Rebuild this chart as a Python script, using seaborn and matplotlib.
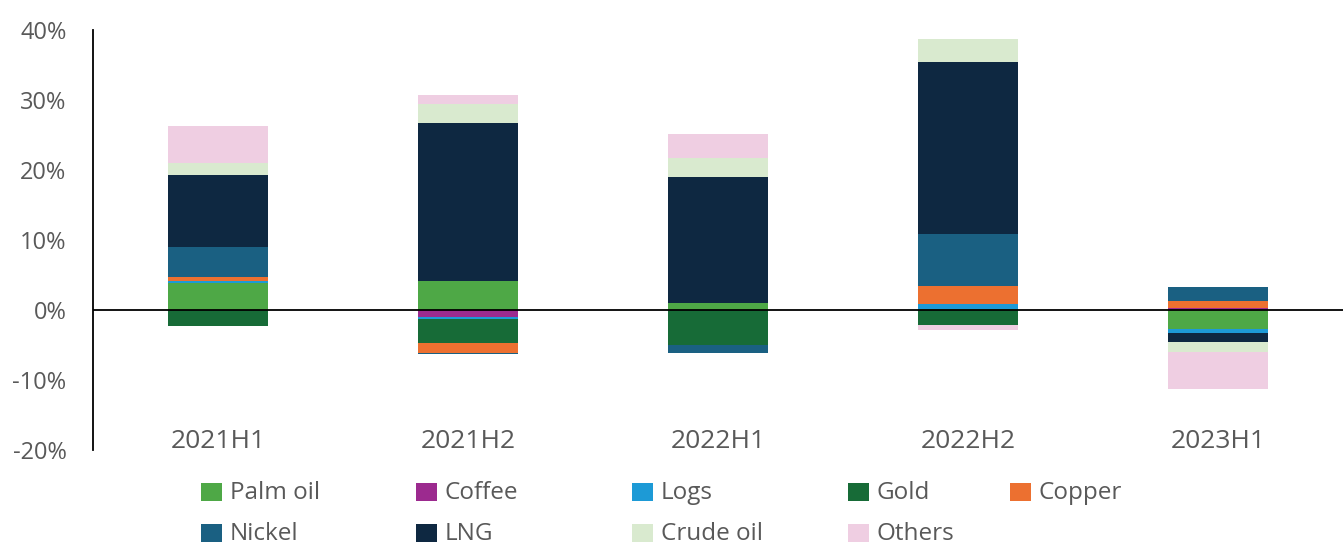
import matplotlib
matplotlib.use("Agg")
import matplotlib.pyplot as plt
from matplotlib.patches import Rectangle
import numpy as np
import pandas as pd
import seaborn as sns

# Half-year periods
periods = ["2021H1", "2021H2", "2022H1", "2022H2", "2023H1"]

# Contribution of each commodity to export growth (percentage points)
palm_oil = [3.8, 4.1, 0.95, 0.2, -2.75]
coffee = [0.0, -1.0, 0.0, 0.0, 0.3]
logs = [0.3, -0.35, 0.0, 0.7, -0.5]
gold = [-2.3, -3.3, -5.0, -2.2, 0.0]
copper = [0.65, -1.55, 0.0, 2.55, 1.05]
nickel = [4.2, -0.15, -1.2, 7.4, 1.9]
lng = [10.3, 22.6, 18.05, 24.6, -1.35]
crude_oil = [1.75, 2.7, 2.65, 3.25, -1.35]
others = [5.35, 1.3, 3.5, -0.7, -5.4]

series_names = ["Palm oil", "Coffee", "Logs", "Gold", "Copper",
                "Nickel", "LNG", "Crude oil", "Others"]
series_values = [palm_oil, coffee, logs, gold, copper,
                 nickel, lng, crude_oil, others]
series_colors = ["#4EA846", "#9C2A8F", "#1D9AD6", "#176B37", "#EC7030",
                 "#1A6082", "#0E2841", "#D9EACF", "#EFCEE2"]

y_ticks = [-20, -10, 0, 10, 20, 30, 40]

sns.set_theme(style="white")
plt.rcParams["font.family"] = ["Open Sans", "DejaVu Sans"]
text_color = "#595959"

fig = plt.figure(figsize=(13.43, 5.47), dpi=100)
ax = fig.add_axes([93 / 1343, 97 / 547, 1250 / 1343, 420 / 547])

# Stack positives upward and negatives downward, in series order
pos_base = np.zeros(len(periods))
neg_base = np.zeros(len(periods))
for name, vals, col in zip(series_names, series_values, series_colors):
    vals = np.asarray(vals, dtype=float)
    bottoms = np.where(vals >= 0, pos_base, neg_base)
    df = pd.DataFrame({"period": periods, "value": vals})
    sns.barplot(data=df, x="period", y="value", bottom=bottoms, color=col,
                width=0.4, saturation=1, ax=ax, linewidth=0, errorbar=None)
    pos_base = pos_base + np.clip(vals, 0, None)
    neg_base = neg_base + np.clip(vals, None, 0)

ax.set_xlim(-0.5, 4.5)
ax.set_ylim(-20, 40)
ax.axhline(0, color="black", linewidth=1.3, zorder=5)

ax.set_yticks(y_ticks)
ax.set_yticklabels([f"{t}%" for t in y_ticks])
ax.set_xlabel("")
ax.set_ylabel("")
ax.tick_params(axis="y", length=0, pad=19, labelsize=17, labelcolor=text_color)
ax.tick_params(axis="x", length=0, pad=-15, labelsize=19, labelcolor=text_color)

for side in ["top", "right", "bottom"]:
    ax.spines[side].set_visible(False)
ax.spines["left"].set_color("black")
ax.spines["left"].set_linewidth(1.3)
ax.grid(False)

# Legend laid out in two rows of fixed-width columns
col_x = [201, 416, 632, 848, 1010]
row_y = [492, 533]
W, H = 1343, 547
for i, (name, col) in enumerate(zip(series_names, series_colors)):
    r, c = divmod(i, 5)
    x0 = col_x[c]
    yc = row_y[r]
    fig.patches.append(Rectangle((x0 / W, 1 - (yc + 9) / H), 21 / W, 18 / H,
                                 transform=fig.transFigure, facecolor=col,
                                 edgecolor="none"))
    fig.text((x0 + 29) / W, 1 - (yc + 1) / H, name, fontsize=17.5,
             color=text_color, va="center", ha="left")

fig.savefig("out.png", dpi=100)
